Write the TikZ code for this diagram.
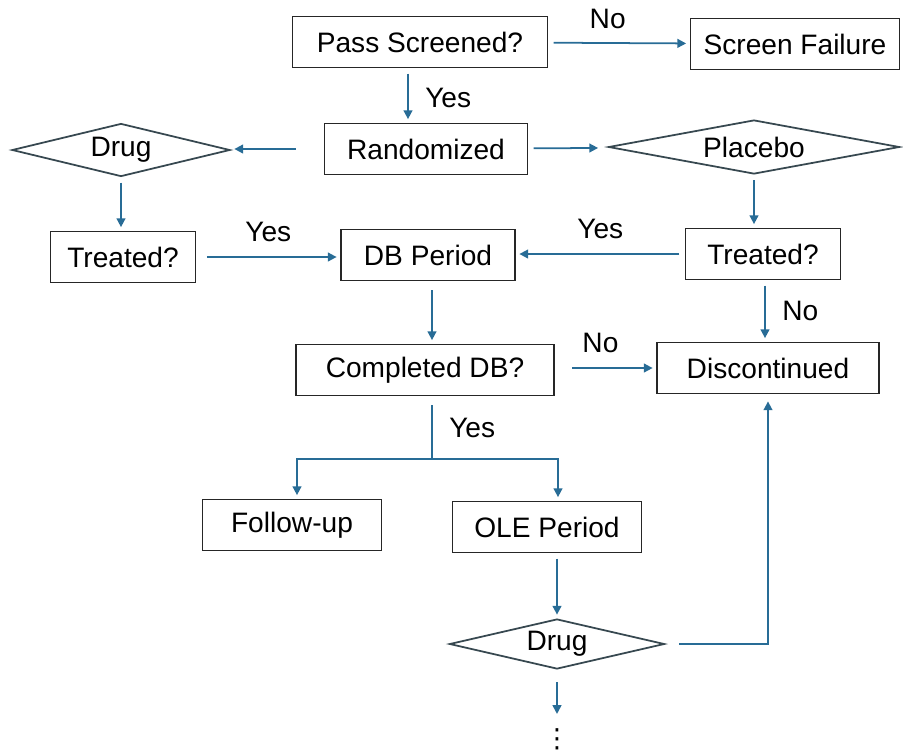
\documentclass[tikz,border=0pt]{standalone}
\usepackage{fontspec}
\setmainfont{Liberation Sans}
\newfontfamily\symfont{DejaVu Sans}
\usepackage{tikz}
\usetikzlibrary{arrows.meta,shapes.geometric,positioning}
\definecolor{flow}{RGB}{40,108,150}
\definecolor{rhomb}{RGB}{55,72,80}
\tikzset{
	box/.style={draw=black!85, line width=1pt, minimum height=1.02cm, inner sep=2pt},
	choice/.style={diamond, draw=rhomb, line width=1pt, aspect=4, inner sep=1pt},
	conn/.style={draw=flow, line width=1pt, shorten <=3pt, shorten >=2pt},
	>={Triangle[length=5pt,width=5pt]}
}

\begin{document}
\begin{tikzpicture}[x=0.02cm, y=-0.02cm, font=\fontsize{16}{19}\selectfont]
	\useasboundingbox (0,0) rectangle (903,752);
	%Screening
	\node [box, minimum width=5.1cm] (pass) at (420,42) {Pass Screened?};
	\node [box, minimum width=4.18cm] (fail) at (795,44) {Screen Failure};
	\node [box, minimum width=4.06cm] (rand) at (426,149) {Randomized};
	%Bracci
	\node [choice, minimum width=4.36cm, minimum height=1.06cm] (drugA) at (121,150) {Drug};
	\node [choice, minimum width=5.82cm, minimum height=1.08cm] (plac) at (754,147) {Placebo};
	\node [box, minimum width=2.9cm] (treatA) at (123,257) {Treated?};
	\node [box, minimum width=3.48cm] (db) at (428,255) {DB Period};
	\node [box, minimum width=3.1cm] (treatB) at (763,254) {Treated?};
	%Fine DB
	\node [box, minimum width=5.16cm] (comp) at (425,370) {Completed DB?};
	\node [box, minimum width=4.44cm] (disc) at (768,368) {Discontinued};
	\node [box, minimum width=3.58cm] (follow) at (292,525) {Follow-up};
	\node [box, minimum width=3.78cm] (ole) at (547,527) {OLE Period};
	\node [choice, minimum width=4.3cm, minimum height=1.0cm] (drugB) at (557,644) {Drug};
	\node [inner sep=0pt, font=\symfont\fontsize{15}{18}\selectfont] (more) at (557,739) {⋮};
	\coordinate (split) at (432,459);

	%Frecce
	\draw [conn, ->] (pass) -- (fail) node [pos=0.42, above=4pt, text=black] {No};
	\draw [conn, ->] (pass.south -| 408,0) -- (rand.north -| 408,0) node [pos=0.55, right=6pt, text=black] {Yes};
	\draw [conn, ->, shorten <=16pt] (rand.west) -- (rand.west -| drugA.east);
	\draw [conn, ->, shorten >=8pt] (rand) -- (plac);
	\draw [conn, ->] (drugA.south) -- (drugA.south |- treatA.north);
	\draw [conn, ->] (plac.south) -- (plac.south |- treatB.north);
	\draw [conn, ->, shorten <=6pt] (treatA.east) -- (treatA.east -| db.west) node [pos=0.5, above=5pt, text=black] {Yes};
	\draw [conn, ->] (treatB.west) -- (treatB.west -| db.east) node [pos=0.5, above=5pt, text=black] {Yes};
	\draw [conn, ->] (treatB.south -| 765,0) -- (disc.north -| 765,0) node [pos=0.5, right=6pt, text=black] {No};
	\draw [conn, ->, shorten <=5pt] (db.south -| split) -- (comp.north -| split);
	\draw [conn, ->, shorten <=10pt] (comp.east |- disc) -- (disc.west) node [pos=0.45, above=5pt, text=black] {No};
	\draw [conn, shorten >=0pt, shorten <=5pt] (comp.south -| split) -- (split) node [pos=0.5, right=6pt, text=black] {Yes};
	\draw [conn, ->, shorten <=0pt] (split) -| (follow.north -| 297,0);
	\draw [conn, ->, shorten <=0pt] (split) -| (ole.north -| 558,0);
	\draw [conn, ->] (ole.south -| drugB) -- (drugB.north);
	\draw [conn, ->, shorten <=8pt, shorten >=4pt] (drugB.east) -| (disc.south);
	\draw [conn, ->, shorten <=7pt, shorten >=8pt] (drugB.south) -- (drugB.south |- more.north);
\end{tikzpicture}
\end{document}
